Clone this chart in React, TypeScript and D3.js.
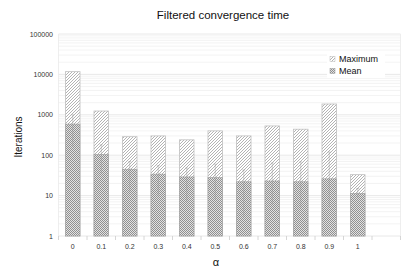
import * as d3 from 'd3';

const categories = ['0', '0.1', '0.2', '0.3', '0.4', '0.5', '0.6', '0.7', '0.8', '0.9', '1', ''];
const maxVals = [11700, 1240, 287, 300, 240, 400, 300, 530, 440, 1850, 33];
const meanVals = [590, 105, 45, 34, 29, 28, 22, 23, 22, 26, 11.4];
const errHigh = [1000, 180, 70, 55, 48, 60, 43, 64, 68, 120, 15];
const errLow = [160, 35, 12, 10, 7, 8, 3, 6, 5, 5, 9];
const yTicks = [1, 10, 100, 1000, 10000, 100000];

const W = 415, H = 273;
const left = 58.5, right = 400.5, top = 34, bottom = 236;
const font = 'Liberation Sans, Arial, sans-serif';

export default function App() {
  const x = d3.scaleBand().domain(categories).range([left, right]).paddingInner(0.49).paddingOuter(0.245);
  const y = d3.scaleLog().domain([1, 100000]).range([bottom, top]);
  const step = x.step();
  const minor: number[] = [];
  for (let d = 1; d < 100000; d *= 10) for (let k = 2; k <= 9; k++) minor.push(d * k);
  const bounds = categories.map((c) => (x(c) as number) - (step - x.bandwidth()) / 2).concat([right]);

  return (
    <svg width={W} height={H} style={{ position: 'absolute', left: 0, top: 0, background: '#fff' }}>
      <defs>
        <pattern id="hatch" width="3" height="3" patternUnits="userSpaceOnUse">
          <rect width="3" height="3" fill="#fff" />
          <path d="M-1,1 L1,-1 M0,3 L3,0 M2,4 L4,2" stroke="#a0a0a0" strokeWidth="0.8" />
        </pattern>
        <pattern id="check" width="2" height="2" patternUnits="userSpaceOnUse">
          <rect width="2" height="2" fill="#e2e2e2" />
          <rect width="1" height="1" fill="#909090" />
          <rect x="1" y="1" width="1" height="1" fill="#909090" />
        </pattern>
      </defs>
      {minor.map((v) => (
        <line key={'m' + v} x1={left} x2={right} y1={y(v)} y2={y(v)} stroke="#f0f0f0" strokeWidth={0.8} />
      ))}
      {yTicks.map((v) => (
        <line key={'g' + v} x1={left} x2={right} y1={y(v)} y2={y(v)} stroke="#e2e2e2" strokeWidth={0.8} />
      ))}
      <line x1={right} x2={right} y1={top} y2={bottom} stroke="#eaeaea" strokeWidth={0.8} />
      <line x1={left} x2={left} y1={top} y2={bottom} stroke="#eaeaea" strokeWidth={0.8} />
      {bounds.map((b, i) => (
        <line key={'t' + i} x1={b} x2={b} y1={bottom} y2={bottom + 4} stroke="#ccc" strokeWidth={0.8} />
      ))}
      {maxVals.map((v, i) => (
        <rect key={'max' + i} x={x(categories[i])} y={y(v)} width={x.bandwidth()} height={bottom - y(v)}
          fill="url(#hatch)" stroke="#c0c0c0" strokeWidth={0.8} />
      ))}
      {meanVals.map((v, i) => (
        <rect key={'mean' + i} x={x(categories[i])} y={y(v)} width={x.bandwidth()} height={bottom - y(v)}
          fill="url(#check)" stroke="#a0a0a0" strokeWidth={0.6} />
      ))}
      {meanVals.map((v, i) => {
        const cx = (x(categories[i]) as number) + x.bandwidth() / 2;
        return (
          <g key={'err' + i} stroke="#999" strokeWidth={0.6} opacity={0.7}>
            <line x1={cx} x2={cx} y1={y(errHigh[i])} y2={y(errLow[i])} />
            <line x1={cx - 1.5} x2={cx + 1.5} y1={y(errHigh[i])} y2={y(errHigh[i])} />
          </g>
        );
      })}
      {yTicks.map((v) => (
        <text key={'yl' + v} x={53} y={y(v) + 2.5} textAnchor="end" fontFamily={font} fontSize={7} fill="#333">{v}</text>
      ))}
      {categories.filter((c) => c !== '').map((c) => (
        <text key={'xl' + c} x={(x(c) as number) + x.bandwidth() / 2} y={249} textAnchor="middle" fontFamily={font} fontSize={7} fill="#333">{c}</text>
      ))}
      <text x={223} y={19} textAnchor="middle" fontFamily={font} fontSize={11.5} fill="#111">Filtered convergence time</text>
      <text transform="translate(22,137) rotate(-90)" textAnchor="middle" fontFamily={font} fontSize={10} fill="#111">Iterations</text>
      <text x={216} y={266} textAnchor="middle" fontFamily={font} fontSize={11} fill="#111">α</text>
      <rect x={327} y={53} width={58} height={25} fill="#fff" />
      <rect x={330} y={56.5} width={5} height={5} fill="url(#hatch)" stroke="#bbb" strokeWidth={0.5} />
      <text x={339} y={62} fontFamily={font} fontSize={9} fill="#111">Maximum</text>
      <rect x={330} y={68.5} width={5} height={5} fill="url(#check)" stroke="#999" strokeWidth={0.5} />
      <text x={339} y={74} fontFamily={font} fontSize={9} fill="#111">Mean</text>
    </svg>
  );
}
